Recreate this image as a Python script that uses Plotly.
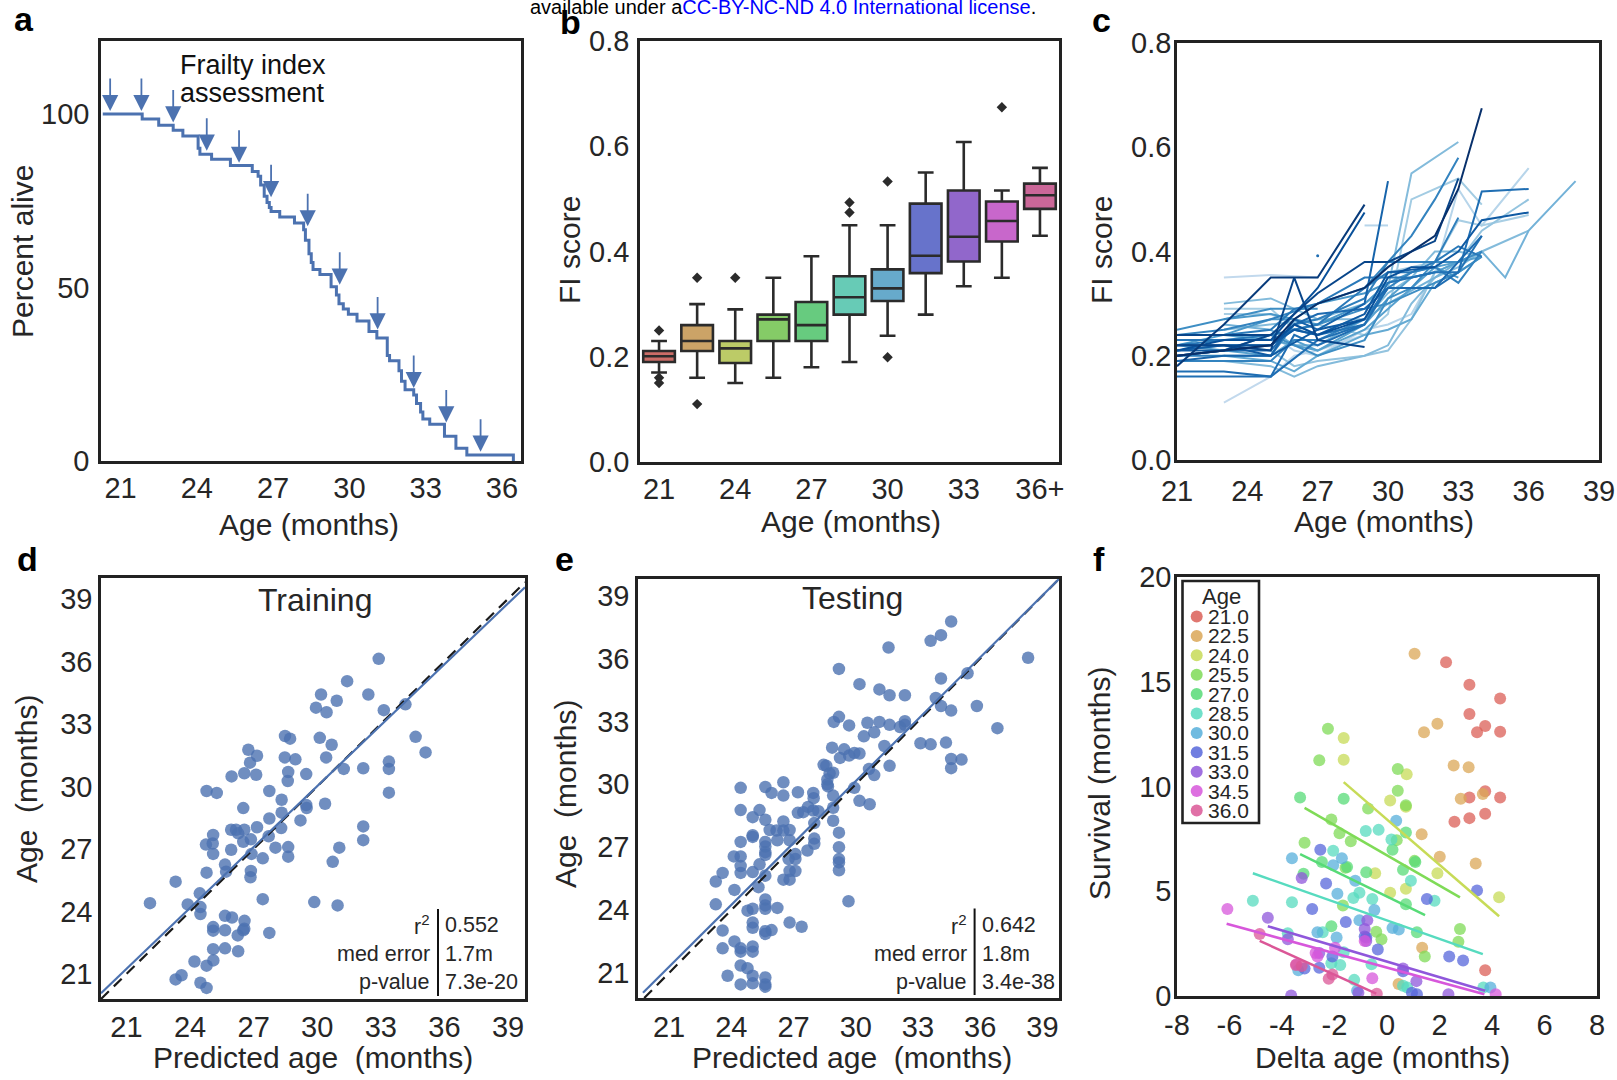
import colorsys
import plotly.graph_objects as go

W, H = 1617, 1080
def fx(p): return p / W
def fy(p): return 1 - p / H

FONT = "Liberation Sans, Arial, Helvetica, sans-serif"
TXT = "#262626"
EDGE = "#222222"
BLUE = "#4c72b0"

# ---------------- data ----------------
# a: survival curve (step) and FI assessment arrows
surv_age = [20.30, 21.85, 22.50, 23.07, 23.45, 24.05, 24.12, 24.58, 25.32, 26.18, 26.41, 26.51, 26.65, 26.76,
            26.85, 26.92, 27.26, 27.84, 28.20, 28.27, 28.41, 28.50, 28.57, 28.84, 29.28, 29.49, 29.59, 29.76,
            29.96, 30.30, 30.77, 31.08, 31.49, 31.58, 31.95, 32.05, 32.19, 32.53, 32.64, 32.80, 32.89, 33.16,
            33.74, 34.19, 34.62, 36.45]
surv_pct = [100.0, 98.5, 96.7, 95.3, 93.6, 90.1, 88.4, 86.9, 85.1, 83.4, 82.0, 79.5, 76.3, 74.5,
            73.0, 71.9, 70.3, 68.6, 66.6, 63.6, 59.7, 57.2, 55.2, 53.7, 50.2, 47.8, 45.3, 43.8,
            42.3, 40.3, 37.3, 35.4, 30.4, 28.9, 26.0, 23.0, 20.5, 19.0, 16.6, 14.1, 12.1, 10.6,
            7.1, 3.7, 1.7, 0.0]
arrow_age = [20.59, 21.82, 23.07, 24.39, 25.66, 26.92, 28.36, 29.62, 31.11, 32.53, 33.81, 35.16]
arrow_pct = [100.8, 100.8, 97.5, 89.4, 85.9, 76.0, 67.6, 50.8, 37.9, 21.0, 11.1, 2.7]

# b: FI score boxes per age group
b_groups = ["21.0", "22.5", "24.0", "25.5", "27.0", "28.5", "30.0", "31.5", "33.0", "34.5", "36+"]
b_ticktext = ["21", "24", "27", "30", "33", "36+"]
b_hi = [0.230, 0.300, 0.290, 0.350, 0.391, 0.450, 0.450, 0.550, 0.608, 0.516, 0.559]
b_q3 = [0.211, 0.260, 0.230, 0.280, 0.304, 0.353, 0.366, 0.491, 0.516, 0.495, 0.529]
b_med = [0.201, 0.230, 0.216, 0.271, 0.260, 0.313, 0.330, 0.392, 0.428, 0.458, 0.507]
b_q1 = [0.190, 0.211, 0.188, 0.230, 0.230, 0.280, 0.306, 0.359, 0.381, 0.419, 0.481]
b_lo = [0.170, 0.160, 0.150, 0.160, 0.180, 0.190, 0.240, 0.280, 0.334, 0.350, 0.430]
b_out = [[0.250, 0.160, 0.150], [0.350, 0.110], [0.350], [], [], [0.493, 0.474], [0.533, 0.199], [], [], [0.674], []]

# c: individual FI trajectories (ages, FI, shade 0=light..1=dark)
c_lines = [
    ([23, 25, 27], [0.35, 0.355, 0.35], 0.08),
    ([29, 30], [0.45, 0.45], 0.12),
    ([23, 25, 26, 27, 29], [0.11, 0.16, 0.20, 0.21, 0.24], 0.08),
    ([23, 25, 26, 27, 29, 30, 31, 32, 33, 34, 36], [0.23, 0.24, 0.21, 0.20, 0.25, 0.26, 0.28, 0.36, 0.52, 0.45, 0.56], 0.12),
    ([23, 25, 26, 27, 29, 30, 31, 32, 33, 34], [0.29, 0.29, 0.25, 0.26, 0.24, 0.28, 0.50, 0.52, 0.54, 0.49], 0.2),
    ([23, 25, 27, 29, 30, 32, 33, 34, 36], [0.28, 0.28, 0.24, 0.28, 0.36, 0.38, 0.46, 0.45, 0.47], 0.18),
    ([23, 25, 26, 27, 29, 30, 31, 32, 33, 34, 36], [0.22, 0.21, 0.18, 0.19, 0.20, 0.21, 0.27, 0.36, 0.38, 0.44, 0.50], 0.25),
    ([23, 25, 27, 29, 30, 31, 33], [0.30, 0.31, 0.27, 0.30, 0.33, 0.55, 0.61], 0.3),
    ([23, 25, 27, 29, 30, 31, 32, 33, 34], [0.25, 0.26, 0.27, 0.27, 0.32, 0.35, 0.40, 0.40, 0.39], 0.3),
    ([23, 25, 26, 27, 29, 30, 31, 32, 33, 34, 36], [0.19, 0.18, 0.16, 0.18, 0.20, 0.22, 0.30, 0.35, 0.37, 0.40, 0.44], 0.3),
    ([23, 25, 26, 27, 29, 30, 32, 33, 34, 35, 36, 38], [0.26, 0.25, 0.22, 0.22, 0.27, 0.30, 0.35, 0.38, 0.40, 0.35, 0.44, 0.535], 0.35),
    ([23, 25, 26, 27, 29, 30, 31, 32, 33, 34], [0.20, 0.19, 0.17, 0.20, 0.24, 0.25, 0.27, 0.34, 0.36, 0.39], 0.4),
    ([23, 25, 26, 27, 29, 30, 31, 32, 34], [0.24, 0.23, 0.22, 0.21, 0.25, 0.29, 0.33, 0.37, 0.39], 0.45),
    ([21, 23, 25, 26, 27, 29, 30, 31, 32, 33], [0.22, 0.21, 0.20, 0.23, 0.21, 0.26, 0.31, 0.35, 0.36, 0.38], 0.45),
    ([23, 25, 27, 29, 30, 31, 32, 33], [0.27, 0.28, 0.26, 0.30, 0.34, 0.36, 0.37, 0.35], 0.5),
    ([21, 23, 25, 26, 27, 29, 30], [0.22, 0.24, 0.27, 0.27, 0.30, 0.32, 0.34], 0.5),
    ([21, 23, 25, 27], [0.25, 0.27, 0.29, 0.29], 0.55),
    ([21, 23, 25, 26, 27, 29, 30, 31, 32, 33, 34], [0.21, 0.22, 0.22, 0.25, 0.26, 0.29, 0.30, 0.32, 0.34, 0.36, 0.39], 0.55),
    ([21, 23, 25, 27, 29, 30, 31, 32, 33, 34], [0.20, 0.21, 0.24, 0.20, 0.23, 0.31, 0.33, 0.38, 0.38, 0.40], 0.55),
    ([21, 23, 25, 27, 29, 30, 31, 32, 33], [0.24, 0.25, 0.27, 0.30, 0.33, 0.38, 0.43, 0.50, 0.58], 0.6),
    ([21, 23, 25, 26, 27, 29, 30, 31, 32, 33, 34], [0.19, 0.19, 0.19, 0.23, 0.23, 0.27, 0.33, 0.36, 0.37, 0.34, 0.40], 0.6),
    ([21, 23, 25, 26, 27, 29, 30, 32, 33], [0.20, 0.20, 0.20, 0.26, 0.27, 0.31, 0.38, 0.38, 0.465], 0.62),
    ([21, 23, 25, 27, 29, 30, 31, 32, 33, 34], [0.22, 0.23, 0.24, 0.26, 0.33, 0.36, 0.36, 0.38, 0.41, 0.39], 0.65),
    ([21, 23, 25, 26, 27, 29, 30, 31, 32], [0.24, 0.24, 0.25, 0.29, 0.30, 0.35, 0.35, 0.35, 0.36], 0.65),
    ([21, 23, 25, 26, 27, 29, 30, 31, 32, 33, 34], [0.23, 0.23, 0.23, 0.25, 0.24, 0.26, 0.34, 0.35, 0.36, 0.36, 0.43], 0.68),
    ([21, 23, 25, 26, 27, 29], [0.16, 0.16, 0.16, 0.24, 0.22, 0.26], 0.7),
    ([21, 23, 25, 27, 29, 30, 32, 33, 34, 36], [0.17, 0.17, 0.16, 0.23, 0.26, 0.33, 0.33, 0.36, 0.515, 0.52], 0.7),
    ([21, 23, 25, 26, 27, 29, 30, 31, 32, 33, 34], [0.20, 0.21, 0.21, 0.26, 0.28, 0.29, 0.33, 0.33, 0.33, 0.38, 0.43], 0.72),
    ([21, 23, 25, 26, 27, 29, 30], [0.19, 0.20, 0.20, 0.27, 0.25, 0.30, 0.535], 0.75),
    ([21, 23, 25, 26, 27, 29, 30, 32, 33, 34, 36], [0.21, 0.21, 0.22, 0.25, 0.24, 0.28, 0.36, 0.37, 0.40, 0.46, 0.475], 0.8),
    ([21, 23, 25, 27, 29], [0.21, 0.22, 0.20, 0.25, 0.27], 0.8),
    ([21, 23, 25, 26, 27, 29, 30, 31, 32], [0.22, 0.22, 0.22, 0.26, 0.24, 0.27, 0.35, 0.37, 0.37], 0.85),
    ([21, 23, 25, 26, 27, 29], [0.21, 0.23, 0.23, 0.28, 0.33, 0.475], 0.85),
    ([21, 23, 25, 26, 27, 29], [0.22, 0.22, 0.21, 0.35, 0.23, 0.217], 0.9),
    ([21, 23, 25, 26, 27, 29, 30, 32, 33], [0.24, 0.24, 0.24, 0.28, 0.32, 0.38, 0.38, 0.42, 0.54], 0.9),
    ([21, 23, 25], [0.20, 0.21, 0.24], 0.9),
    ([21, 23, 25, 27, 29], [0.18, 0.26, 0.35, 0.35, 0.49], 0.95),
    ([21, 23, 25, 26, 27, 29, 30, 32, 33, 34], [0.20, 0.21, 0.22, 0.27, 0.30, 0.33, 0.37, 0.43, 0.52, 0.675], 1.0),
    ([27], [0.392], 0.7),
]

# d: training set
d_pred = [32.90, 31.41, 30.18, 32.41, 30.92, 34.16, 29.94, 30.44, 33.14, 30.12, 30.68, 28.48, 28.72, 26.75, 27.16,
          26.83, 28.47, 28.97, 30.42, 34.64, 35.11, 33.38, 33.38, 32.17, 31.25, 26.56, 25.96, 27.12, 28.63, 28.61,
          29.48, 24.78, 25.26, 27.74, 33.38, 28.32, 26.51, 29.48, 29.50, 30.37, 28.32, 29.21, 27.74, 27.16, 25.94,
          26.17, 26.56, 26.27, 28.30, 32.17, 25.09, 24.75, 25.07, 26.51, 26.87, 27.71, 28.03, 28.63, 26.90, 25.09,
          25.94, 27.43, 28.63, 31.04, 32.17, 30.73, 25.65, 25.70, 24.78, 26.87, 26.85, 23.32, 24.46, 24.49, 23.89,
          22.11, 24.49, 27.43, 29.86, 30.96, 25.65, 25.98, 26.57, 26.56, 26.51, 25.09, 25.09, 25.65, 26.25, 27.74,
          25.09, 25.65, 26.27, 24.21, 24.78, 25.10, 23.60, 23.32, 24.49, 24.78]
d_age = [36.12, 35.05, 34.41, 34.41, 34.11, 33.94, 33.78, 33.56, 33.66, 32.33, 32.00, 32.42, 32.29, 31.76, 31.47,
         31.14, 31.39, 31.30, 31.39, 32.38, 31.63, 31.19, 30.84, 30.87, 30.84, 30.63, 30.48, 30.56, 30.69, 30.26,
         30.59, 29.78, 29.69, 29.78, 29.70, 29.36, 28.96, 29.11, 28.96, 29.17, 28.74, 28.37, 28.46, 28.04, 27.92,
         27.92, 27.92, 27.75, 28.00, 28.08, 27.67, 27.21, 27.26, 27.34, 27.46, 27.61, 27.06, 27.09, 26.76, 26.76,
         26.96, 26.55, 26.63, 27.06, 27.42, 26.38, 26.25, 25.91, 25.86, 25.94, 25.64, 25.43, 24.87, 24.21, 24.34,
         24.40, 23.88, 24.59, 24.45, 24.29, 23.79, 23.71, 23.55, 23.17, 23.10, 23.25, 23.08, 23.10, 22.85, 22.97,
         22.19, 22.23, 22.09, 21.60, 21.40, 21.65, 20.94, 20.74, 20.58, 20.33]
d_fit_x = [19.8, 39.8]
d_fit_y = [20.08, 39.56]
d_stats = [("r<sup>2</sup>", "0.552"), ("med error", "1.7m"), ("p-value", "7.3e-20")]

# e: testing set
e_pred = [34.60, 34.11, 33.61, 31.58, 38.31, 29.19, 35.39, 34.11, 30.18, 31.14, 31.63, 32.37, 33.86, 34.11, 35.84,
          34.60, 29.19, 28.94, 29.68, 30.56, 31.14, 31.63, 32.37, 32.37, 32.13, 30.39, 30.89, 36.83, 33.12, 33.61,
          34.35, 31.38, 28.86, 29.44, 29.93, 30.18, 29.68, 29.24, 34.60, 35.10, 34.60, 31.63, 28.45, 28.58, 30.64,
          30.89, 28.74, 28.91, 28.63, 28.63, 28.66, 29.93, 24.45, 25.64, 26.51, 25.94, 26.51, 27.21, 27.95, 27.97,
          28.91, 30.18, 30.67, 24.45, 25.36, 25.03, 25.64, 27.21, 27.47, 27.70, 27.95, 28.20, 28.91, 28.91, 26.51,
          28.00, 25.85, 26.18, 26.51, 26.81, 25.03, 25.03, 24.45, 26.22, 26.81, 28.00, 28.00, 27.67, 29.19, 29.19,
          25.64, 25.64, 25.64, 25.64, 24.12, 24.45, 27.09, 27.09, 26.76, 29.19, 29.19, 25.36, 23.58, 24.45, 24.45,
          25.03, 25.64, 27.09, 26.81, 26.81, 26.51, 29.19, 23.25, 24.15, 25.31, 25.64, 25.64, 25.64, 26.22, 23.25,
          24.78, 25.03, 29.65, 23.58, 25.03, 25.03, 25.64, 25.94, 25.64, 26.81, 27.39, 24.15, 24.45, 24.45, 25.03,
          25.03, 23.58, 24.45, 24.78, 23.82, 24.45, 25.03, 25.03, 25.64, 25.64, 25.64]
e_age = [37.77, 37.12, 36.85, 36.53, 36.04, 35.51, 35.30, 35.05, 34.78, 34.53, 34.25, 34.25, 34.12, 33.74, 33.74,
         33.52, 33.22, 32.98, 32.81, 32.94, 32.98, 32.84, 33.01, 32.84, 32.73, 32.29, 32.48, 32.68, 31.96, 31.91,
         31.99, 31.83, 31.75, 31.67, 31.50, 31.47, 31.37, 31.26, 31.21, 31.18, 30.77, 30.88, 30.93, 30.88, 30.73,
         30.44, 30.52, 30.55, 30.23, 30.00, 29.90, 29.83, 29.83, 29.87, 30.10, 29.59, 29.46, 29.62, 29.59, 29.34,
         29.46, 29.21, 29.05, 28.77, 28.77, 28.43, 28.31, 28.64, 28.67, 28.92, 28.75, 28.72, 28.88, 28.26, 28.23,
         28.15, 27.82, 27.79, 27.79, 27.82, 27.57, 27.49, 27.25, 27.33, 27.33, 27.41, 27.16, 26.84, 27.69, 27.00,
         27.25, 27.03, 26.76, 26.63, 26.56, 26.56, 26.67, 26.43, 26.43, 26.43, 26.27, 26.18, 25.77, 26.10, 25.77,
         25.81, 25.64, 25.86, 25.86, 25.45, 25.45, 25.90, 25.36, 24.96, 25.09, 24.50, 24.22, 24.06, 24.10, 24.27,
         23.97, 24.06, 24.42, 23.02, 23.40, 23.15, 22.99, 23.04, 22.86, 23.40, 23.20, 22.50, 22.17, 22.01, 22.26,
         22.01, 22.17, 21.35, 21.22, 20.86, 20.45, 20.86, 20.50, 20.78, 20.45, 20.34]
e_fit_x = [19.74, 39.8]
e_fit_y = [20.05, 39.8]
e_stats = [("r<sup>2</sup>", "0.642"), ("med error", "1.8m"), ("p-value", "3.4e-38")]

# f: delta age vs survival, per age group
f_groups = [21.0, 22.5, 24.0, 25.5, 27.0, 28.5, 30.0, 31.5, 33.0, 34.5, 36.0]
f_dx = [
    [2.25, 3.14, 4.31, 3.14, 3.74, 3.43, 4.31, 3.74, 3.14, 4.31, 2.57, 3.14, 3.74, 3.74],
    [1.05, 1.92, 1.41, 2.54, 3.11, 2.81, 3.65, 1.32, 2.01, 3.38, 1.34, 0.44],
    [-1.65, -1.65, 0.75, 0.72, 0.12, -0.45, 1.92, 0.72, 0.12, 4.27],
    [-2.25, -2.58, -0.72, -2.12, -1.81, -1.38, -3.14, -1.58, -1.68, -0.41, -0.21, 2.78, 2.72, 1.44, 0.41, 0.72, 0.41, 0.37, 1.05],
    [-3.31, -1.65, 0.72, 1.08, -0.79, 0.61, 0.72, -2.48, -1.52, -3.18, -2.12, 1.14, 0.21],
    [-0.32, -0.81, 0.17, -2.05, 0.91, -0.56, -1.28, -1.05, -5.11, -3.62, 1.81, -2.45, -2.12, -1.78, -1.25, -0.59, 3.67, 0.77, 0.61, -3.78, -1.65],
    [-3.62, -1.72, -2.05, -1.89, -1.21, -0.48, 0.21, 0.45, -1.92, -2.65, -3.38, 3.94, -1.14, -1.05, 0.35],
    [-2.54, -2.32, -2.85, -1.57, -0.79, -0.35, 1.52, 3.43, 2.37, 2.90, -2.08, -2.58, -3.14, 0.61, 1.14, 0.95, -0.85],
    [-3.25, -4.54, -3.78, -0.75, -0.85, -0.79, 1.12, 2.34, -3.65, -1.09, -2.58, 0.61],
    [-6.08, -2.65, -0.56, -1.98, 4.14, -3.45, -2.72, -0.85],
    [-4.85, -3.47, -3.25, -2.22, -2.08, -0.39],
]
f_surv = [
    [15.93, 14.86, 14.20, 13.46, 12.89, 12.59, 12.61, 9.77, 9.47, 9.47, 8.32, 8.49, 8.70, 1.23],
    [16.34, 13.00, 12.59, 11.00, 10.92, 9.41, 9.64, 7.72, 6.65, 6.32, 2.30, 0.57],
    [12.32, 11.28, 10.59, 9.03, 9.33, 5.86, 5.86, 5.12, 4.93, 4.71],
    [12.76, 11.25, 8.95, 8.42, 7.77, 7.39, 7.31, 6.12, 4.32, 3.07, 2.71, 3.20, 2.59, 1.89, 10.84, 9.11, 9.80, 7.44, 6.45],
    [9.47, 9.41, 7.80, 6.40, 5.91, 6.03, 4.38, 6.40, 6.16, 5.83, 3.33, 3.04, 6.98],
    [7.93, 7.88, 7.47, 6.93, 5.50, 4.63, 4.68, 4.93, 4.55, 4.47, 4.55, 3.04, 1.56, 1.48, 0.77, 1.51, 0.41, 0.41, 0.49, 3.00, 2.09],
    [6.57, 6.57, 6.24, 4.88, 5.50, 4.11, 3.25, 3.17, 2.79, 3.04, 1.23, 0.41, 0.25, 3.61, 8.37],
    [6.98, 5.37, 4.15, 3.53, 2.79, 2.22, 4.63, 5.04, 1.89, 1.69, 1.89, 1.35, 1.31, 1.18, 0.08, 0.16, 2.84],
    [5.63, 3.74, 2.71, 3.61, 3.20, 2.63, 0.71, 0.08, 0.02, 0.16, 2.05, 1.31],
    [4.15, 1.89, 0.85, 2.30, 0.08, 1.51, 2.05, 2.63],
    [2.96, 1.48, 1.43, 0.82, 1.03, 0.11],
]
# fitted lines (group, x0, x1, y0, y1)
f_fit_group = [24.0, 25.5, 27.0, 28.5, 33.0, 34.5, 36.0]
f_fit_x0 = [-1.65, -3.14, -3.31, -5.11, -4.54, -6.11, -4.85]
f_fit_x1 = [4.27, 2.78, 1.45, 3.65, 3.74, 3.71, -0.41]
f_fit_y0 = [10.21, 8.98, 6.77, 5.86, 3.33, 3.45, 2.63]
f_fit_y1 = [3.81, 4.71, 3.86, 2.00, 0.25, 0.08, 0.11]
f_xticks = [-8, -6, -4, -2, 0, 2, 4, 6, 8]

# ---------------- style helpers ----------------
def hls_palette(n, h=0.01, l=0.6, s=0.65):
    return [colorsys.hls_to_rgb((i / n + h) % 1, l, s) for i in range(n)]

def to_hex(rgb):
    return "#%02x%02x%02x" % tuple(max(0, min(255, int(round(c * 255)))) for c in rgb)

def desat(rgb, prop):
    h, l, s = colorsys.rgb_to_hls(*rgb)
    return colorsys.hls_to_rgb(h, l, s * prop)

PAL = hls_palette(11)
PAL_HEX = [to_hex(c) for c in PAL]
BOX_HEX = [to_hex(desat(c, 0.75)) for c in PAL]

BLUES = [(0.0, (247, 251, 255)), (0.125, (222, 235, 247)), (0.25, (198, 219, 239)), (0.375, (158, 202, 225)),
         (0.5, (107, 174, 214)), (0.625, (66, 146, 198)), (0.75, (33, 113, 181)), (0.875, (8, 81, 156)),
         (1.0, (8, 48, 107))]

def blues(t):
    for (t0, c0), (t1, c1) in zip(BLUES[:-1], BLUES[1:]):
        if t <= t1:
            u = (t - t0) / (t1 - t0)
            return "#%02x%02x%02x" % tuple(int(round(a + (b - a) * u)) for a, b in zip(c0, c1))
    return "#08306b"

fig = go.Figure()

# ---------------- panel a ----------------
fig.add_trace(go.Scatter(x=surv_age, y=surv_pct, mode="lines", line=dict(color=BLUE, width=3, shape="hv"),
                         xaxis="x", yaxis="y", hoverinfo="skip"))

# ---------------- panel b ----------------
for i, g in enumerate(b_groups):
    fig.add_trace(go.Box(x=[i], q1=[b_q1[i]], median=[b_med[i]], q3=[b_q3[i]], lowerfence=[b_lo[i]],
                         upperfence=[b_hi[i]], width=0.83, whiskerwidth=0.5, fillcolor=BOX_HEX[i],
                         line=dict(color="#2b2b2b", width=2.6), boxpoints=False, xaxis="x2", yaxis="y2",
                         hoverinfo="skip"))
    if b_out[i]:
        fig.add_trace(go.Scatter(x=[i] * len(b_out[i]), y=b_out[i], mode="markers",
                                 marker=dict(symbol="diamond", color="#2b2b2b", size=8), xaxis="x2", yaxis="y2",
                                 hoverinfo="skip"))

# ---------------- panel c ----------------
for ages, vals, shade in c_lines:
    col = blues(0.2 + 0.8 * shade)
    if len(ages) == 1:
        fig.add_trace(go.Scatter(x=ages, y=vals, mode="markers", marker=dict(color=col, size=3),
                                 xaxis="x3", yaxis="y3", hoverinfo="skip"))
    else:
        fig.add_trace(go.Scatter(x=ages, y=vals, mode="lines", line=dict(color=col, width=2),
                                 xaxis="x3", yaxis="y3", hoverinfo="skip"))

# ---------------- panel d / e ----------------
for pred, age, fx_, fy_, ax, ay, lim in [(d_pred, d_age, d_fit_x, d_fit_y, "x4", "y4", (19.8, 39.8)),
                                          (e_pred, e_age, e_fit_x, e_fit_y, "x5", "y5", (19.8, 39.8))]:
    fig.add_trace(go.Scatter(x=pred, y=age, mode="markers",
                             marker=dict(color=BLUE, size=12.5, opacity=0.8, line=dict(width=0)),
                             xaxis=ax, yaxis=ay, hoverinfo="skip"))
    fig.add_trace(go.Scatter(x=list(lim), y=list(lim), mode="lines",
                             line=dict(color="#1a1a1a", width=2.2, dash="11px,7px"),
                             xaxis=ax, yaxis=ay, hoverinfo="skip"))
    fig.add_trace(go.Scatter(x=fx_, y=fy_, mode="lines", line=dict(color=BLUE, width=2.2),
                             xaxis=ax, yaxis=ay, hoverinfo="skip"))

# ---------------- panel f ----------------
for i, g in enumerate(f_groups):
    fig.add_trace(go.Scatter(x=f_dx[i], y=f_surv[i], mode="markers",
                             marker=dict(color=PAL_HEX[i], size=12, opacity=0.75, line=dict(width=0)),
                             xaxis="x6", yaxis="y6", hoverinfo="skip"))
for k, g in enumerate(f_fit_group):
    fig.add_trace(go.Scatter(x=[f_fit_x0[k], f_fit_x1[k]], y=[f_fit_y0[k], f_fit_y1[k]], mode="lines",
                             line=dict(color=PAL_HEX[f_groups.index(g)], width=2.5),
                             xaxis="x6", yaxis="y6", hoverinfo="skip"))

# ---------------- axes ----------------
def axis(dom, rng, tickvals, ticktext=None, standoff=0):
    d = dict(domain=dom, range=rng, tickvals=tickvals, showline=True, mirror=True, linecolor=EDGE, linewidth=2.6,
             showgrid=False, zeroline=False, ticks="", ticklabelstandoff=standoff, automargin=False,
             tickfont=dict(size=29, color=TXT, family=FONT), fixedrange=True)
    if ticktext is not None:
        d["ticktext"] = ticktext
    return d

boxes = {
    "a": (101, 521, 41, 461),
    "b": (640, 1059, 41, 462),
    "c": (1177, 1599, 43, 460),
    "d": (101, 525, 578, 999),
    "e": (638, 1059, 579, 998),
    "f": (1177, 1597, 577, 996),
}
def xdom(k): return [fx(boxes[k][0]), fx(boxes[k][1])]
def ydom(k): return [fy(boxes[k][3]), fy(boxes[k][2])]

t3 = [21, 24, 27, 30, 33, 36, 39]
fi_ticks = [0.0, 0.2, 0.4, 0.6, 0.8]
fi_text = ["0.0", "0.2", "0.4", "0.6", "0.8"]
layout_axes = dict(
    xaxis=axis(xdom("a"), [20.23, 36.75], [21, 24, 27, 30, 33, 36], standoff=-1),
    yaxis=axis(ydom("a"), [0, 121], [0, 50, 100], standoff=3),
    xaxis2=axis(xdom("b"), [-0.5, 10.5], [0, 2, 4, 6, 8, 10], b_ticktext, standoff=-1),
    yaxis2=axis(ydom("b"), [0, 0.8], fi_ticks, fi_text, standoff=2),
    xaxis3=axis(xdom("c"), [21, 39], t3, standoff=3),
    yaxis3=axis(ydom("c"), [0, 0.8], fi_ticks, fi_text, standoff=-3),
    xaxis4=axis(xdom("d"), [19.8, 39.8], t3, standoff=0),
    yaxis4=axis(ydom("d"), [19.8, 40.0], t3, standoff=0),
    xaxis5=axis(xdom("e"), [19.5, 39.8], t3, standoff=1),
    yaxis5=axis(ydom("e"), [19.8, 39.8], t3, standoff=0),
    xaxis6=axis(xdom("f"), [-8, 8], f_xticks, [str(v) for v in f_xticks], standoff=1),
    yaxis6=axis(ydom("f"), [0, 20], [0, 5, 10, 15, 20], standoff=-3),
)
for i in range(2, 7):
    layout_axes["xaxis%d" % i]["anchor"] = "y%d" % i
    layout_axes["yaxis%d" % i]["anchor"] = "x%d" % i
layout_axes["xaxis"]["anchor"] = "y"
layout_axes["yaxis"]["anchor"] = "x"

# ---------------- annotations ----------------
ann = []
def text(x, y, s, size=30, xanchor="center", yanchor="middle", angle=0, bold=False, color=TXT):
    ann.append(dict(x=fx(x), y=fy(y), xref="paper", yref="paper", text=("<b>%s</b>" % s) if bold else s,
                    showarrow=False, xanchor=xanchor, yanchor=yanchor, textangle=angle,
                    font=dict(size=size, color=color, family=FONT)))

# header (cut by the top edge as in the source page)
ann.append(dict(x=fx(528), y=fy(7), xref="paper", yref="paper", showarrow=False, xanchor="left", yanchor="middle",
                text="available under a<span style='color:#0000ff'>CC-BY-NC-ND 4.0 International license</span>.",
                font=dict(size=20, color="#000000", family=FONT)))

# panel letters
for lab, x, y in [("a", 24, 19), ("b", 570, 22), ("c", 1101, 20), ("d", 27, 559), ("e", 564, 559), ("f", 1099, 559)]:
    text(x, y, lab, size=34, bold=True, color="#000000")

# axis titles
text(22, 252, "Percent alive", angle=-90)
text(309, 524, "Age (months)")
text(569, 250, "FI score", angle=-90)
text(851, 521, "Age (months)")
text(1101, 250, "FI score", angle=-90)
text(1384, 521, "Age (months)")
text(26, 789, "Age\u00a0 (months)", angle=-90)
text(313, 1057, "Predicted age\u00a0 (months)")
text(565, 794, "Age\u00a0 (months)", angle=-90)
text(852, 1057, "Predicted age\u00a0 (months)")
text(1099, 784, "Survival (months)", angle=-90)
text(1382, 1057, "Delta age (months)")

# panel a notes and arrows
text(178, 65, "Frailty index", size=27, xanchor="left", color="#111111")
text(178, 93, "assessment", size=27, xanchor="left", color="#111111")
for xa, ya in zip(arrow_age, arrow_pct):
    ann.append(dict(x=xa, y=ya, xref="x", yref="y", ax=0, ay=-34, axref="pixel", ayref="pixel", text="",
                    showarrow=True, arrowhead=2, arrowsize=1.8, arrowwidth=1.8, arrowcolor=BLUE))

# training / testing titles and stats tables
text(315, 600, "Training", size=32)
text(852, 598, "Testing", size=32)
shapes = []
for stats, xr, xv, xl, ytop, ybot in [(d_stats, 432, 443, 438, 909, 996), (e_stats, 968.7, 980, 974.6, 908.5, 995)]:
    for j, (lab, val) in enumerate(stats):
        yc = 925 + 28.5 * j
        text(xr, yc, lab, size=21.5, xanchor="right")
        text(xv, yc, val, size=21.5, xanchor="left")
    shapes.append(dict(type="line", xref="paper", yref="paper", x0=fx(xl), x1=fx(xl), y0=fy(ytop), y1=fy(ybot),
                       line=dict(color="#111111", width=2)))

# panel f manual legend
shapes.append(dict(type="rect", xref="paper", yref="paper", x0=fx(1182.5), x1=fx(1259), y0=fy(823), y1=fy(581),
                   line=dict(color=EDGE, width=2.6), fillcolor="rgba(255,255,255,0.85)", layer="above"))
text(1221.5, 596, "Age", size=22)
for i, g in enumerate(f_groups):
    yc = 616.5 + 19.4 * i
    shapes.append(dict(type="circle", xref="paper", yref="paper", x0=fx(1190.7), x1=fx(1202.7),
                       y0=fy(yc + 6), y1=fy(yc - 6), fillcolor=PAL_HEX[i], opacity=0.85,
                       line=dict(width=0), layer="above"))
    text(1206, yc, "%.1f" % g, size=21, xanchor="left")

fig.update_layout(
    template="none",
    width=W, height=H, autosize=False, margin=dict(l=0, r=0, t=0, b=0, pad=0),
    paper_bgcolor="white", plot_bgcolor="white", showlegend=False,
    font=dict(family=FONT, color=TXT),
    annotations=ann, shapes=shapes,
    **layout_axes,
)

fig.write_html("out.html", config={"displayModeBar": False},
               post_script="document.body.style.margin='0px';document.body.style.overflow='hidden';")
